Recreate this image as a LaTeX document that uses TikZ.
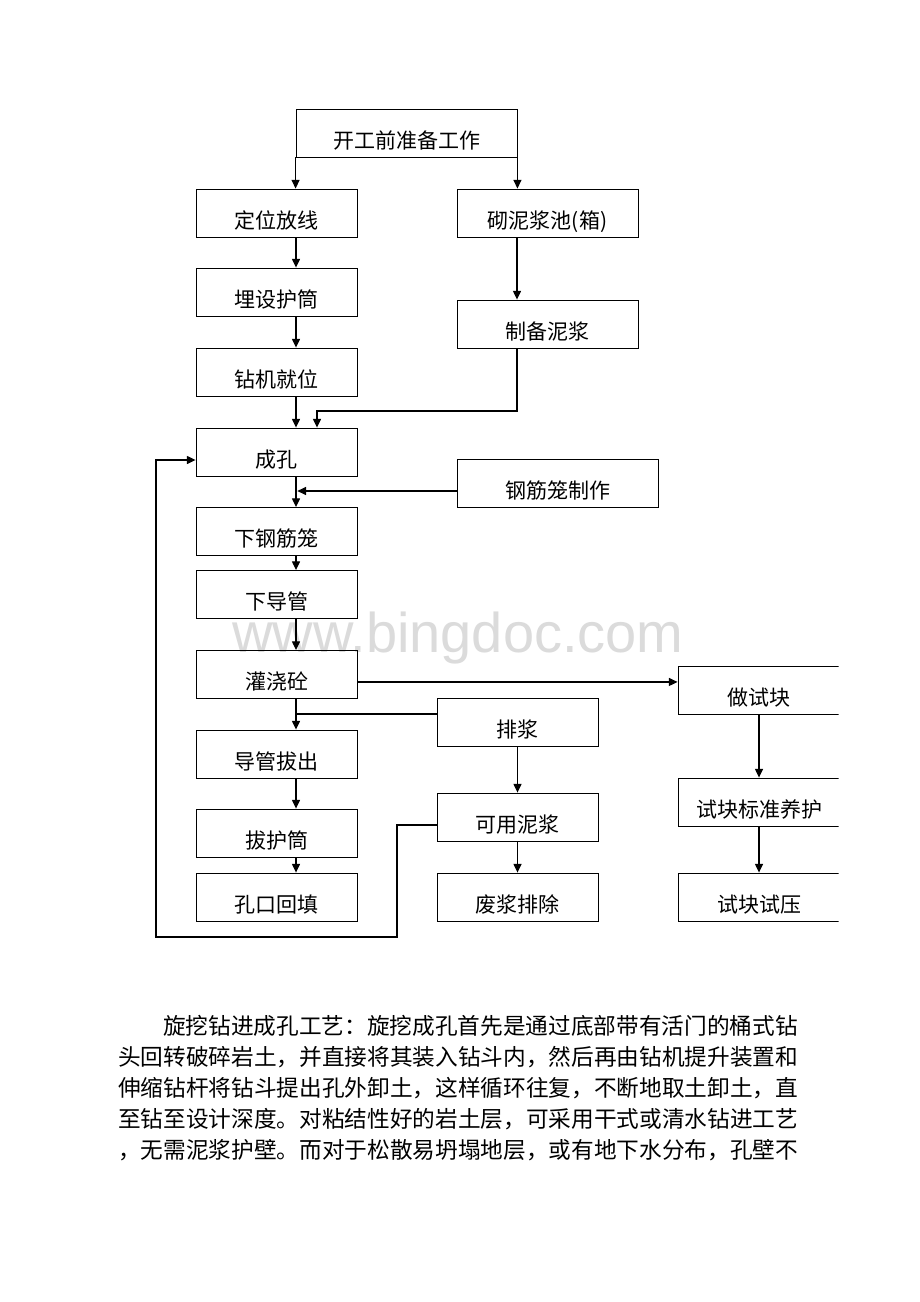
\documentclass[tikz,border=0pt]{standalone}
\usepackage{fontspec}
\newfontfamily\cjk{Noto Sans CJK SC}
\newfontfamily\wmfont{Liberation Sans}
\usetikzlibrary{arrows.meta,calc}
\begin{document}
\begin{tikzpicture}[x=0.75pt,y=-0.75pt,
  box/.style={draw=black, line width=0.65pt, minimum height=36pt, inner sep=0pt,
    text height=25pt, text depth=2pt, font=\cjk\fontsize{15.75pt}{18pt}\selectfont},
  w161/.style={minimum width=120.75pt},
  w181/.style={minimum width=135.75pt},
  w201/.style={minimum width=150.75pt},
  w221/.style={minimum width=165.75pt},
  w162/.style={minimum width=121.5pt},
  arr/.style={line width=0.85pt, -{Triangle[length=6.5pt,width=6pt]}},
  ln/.style={line width=0.85pt},
  para/.style={inner sep=0pt, font=\cjk\fontsize{17pt}{20pt}\selectfont}]
\useasboundingbox (0,0) rectangle (920,1302);
\fill[white] (0,0) rectangle (920,1302);

% watermark
\node[anchor=base west, inner sep=0pt, text=black!14,
  font=\wmfont\fontsize{42pt}{42pt}\selectfont] (wm) at (232,652) {www.bingdoc.com};

% column guides
\coordinate (L) at (296,0);
\coordinate (M) at (517,0);

% left column
\node[box,w221] (top) at (406.5,133) {开工前准备工作};
\node[box,w161] (dw) at (276.5,213) {定位放线};
\node[box,w161] (mh) at (276.5,292) {埋设护筒};
\node[box,w161] (zj) at (276.5,372) {钻机就位};
\node[box,w161] (ck) at (276.5,452) {成孔};
\node[box,w161] (xg) at (276.5,531.5) {下钢筋笼};
\node[box,w161] (xd) at (276.5,594.5) {下导管};
\node[box,w161] (gj) at (276.5,674.5) {灌浇砼};
\node[box,w161] (dg) at (276.5,754) {导管拔出};
\node[box,w161] (bh) at (276.5,833) {拔护筒};
\node[box,w161] (kh) at (276.5,897) {孔口回填};

% middle column
\node[box,w181] (qn) at (547.5,213) {砌泥浆池(箱)};
\node[box,w181] (zb) at (547.5,324) {制备泥浆};
\node[box,w201] (gz) at (557.5,483) {钢筋笼制作};
\node[box,w161] (pj) at (517.5,722) {排浆};
\node[box,w161] (ky) at (517.5,817) {可用泥浆};
\node[box,w161] (fj) at (517.5,897) {废浆排除};

% right column (cut at the page edge)
\begin{scope}
\clip (0,0) rectangle (838.5,1302);
\node[box,w162] (zs) at (759,690) {做试块};
\node[box,w162] (yh) at (759,802) {试块标准养护};
\node[box,w162] (sy) at (759,897) {试块试压};
\end{scope}

% connectors
\draw[arr] (top.south west) -- (dw.north -| top.south west);
\draw[arr] (top.south east) -- (qn.north -| top.south east);
\draw[arr] (dw.south -| L) -- (mh.north -| L);
\draw[arr] (mh.south -| L) -- (zj.north -| L);
\draw[arr] (zj.south -| L) -- (ck.north -| L);
\draw[arr] (qn.south -| M) -- (zb.north -| M);
\coordinate (j1) at (317,411);
\draw[arr] (zb.south -| M) |- (j1) -- (ck.north -| j1);
\draw[arr] (ck.south -| L) -- (xg.north -| L);
\coordinate (gzo) at ([yshift=-6pt]gz.west);
\draw[arr] (gzo) -- ([xshift=1pt]gzo -| L);
\draw[arr] (xg.south -| L) -- (xd.north -| L);
\draw[arr] (xd.south -| L) -- (gj.north -| L);
\coordinate (gjo) at ([yshift=-5.6pt]gj.east);
\draw[arr] (gjo) -- (gjo -| zs.west);
\draw[arr] (gj.south -| L) -- (dg.north -| L);
\coordinate (pjo) at ([yshift=6pt]pj.west);
\draw[ln] (pjo) -- (pjo -| L);
\draw[arr] (dg.south -| L) -- (bh.north -| L);
\draw[arr] (bh.south -| L) -- (kh.north -| L);
\draw[arr] (pj.south) -- (ky.north);
\draw[arr] (ky.south) -- (fj.north);
\draw[arr] (zs.south) -- (yh.north);
\draw[arr] (yh.south) -- (sy.north);
% return loop
\coordinate (kyo) at ([yshift=-6pt]ky.west);
\coordinate (cko) at ([yshift=-6pt]ck.west);
\coordinate (lp1) at (397,937);
\coordinate (lp2) at (156,937);
\draw[arr] (kyo) -| (lp1) -- (lp2) |- (cko);

% paragraph
\node[para, anchor=east] (p1) at (798,1026) {旋挖钻进成孔工艺：旋挖成孔首先是通过底部带有活门的桶式钻};
\node[para, anchor=west] (p2) at (118,1057) {头回转破碎岩土，并直接将其装入钻斗内，然后再由钻机提升装置和};
\node[para, anchor=west] (p3) at (118,1088) {伸缩钻杆将钻斗提出孔外卸土，这样循环往复，不断地取土卸土，直};
\node[para, anchor=west] (p4) at (118,1119) {至钻至设计深度。对粘结性好的岩土层，可采用干式或清水钻进工艺};
\node[para, anchor=west] (p5) at (118,1150) {，无需泥浆护壁。而对于松散易坍塌地层，或有地下水分布，孔壁不};
\end{tikzpicture}
\end{document}
